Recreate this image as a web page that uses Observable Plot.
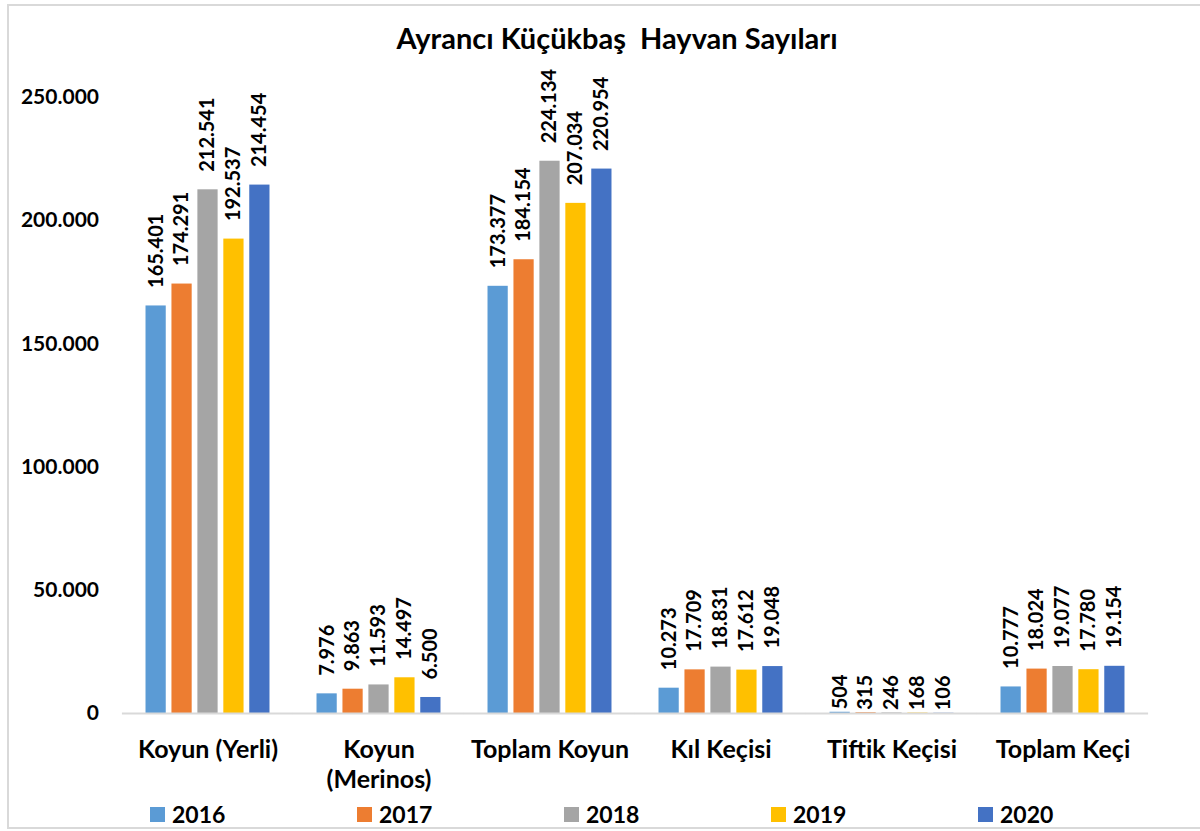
<!DOCTYPE html>
<html>
<head>
<meta charset="utf-8">
<script src="https://cdn.jsdelivr.net/npm/d3@7"></script>
<script src="https://cdn.jsdelivr.net/npm/@observablehq/plot@0.6"></script>
<style>
  html, body { margin: 0; padding: 0; background: #ffffff; }
  body { width: 1200px; height: 831px; position: relative; overflow: hidden; font-family: Lato, "Open Sans", sans-serif; }
  #frame { position: absolute; left: 7px; top: 4px; width: 1200px; height: 825px; border: 2px solid #d9d9d9; box-sizing: border-box; background: #fff; }
  #title { position: absolute; left: 0; top: 20px; width: 1234px; text-align: center; font-size: 29px; font-weight: 700; white-space: pre; color: #000; }
  #chart { position: absolute; left: 0; top: 0; }
  #legend { position: absolute; left: 150px; top: 800px; display: flex; }
  .item { width: 207px; display: flex; align-items: center; font-size: 23px; font-weight: 700; color: #000; }
  .sw { width: 15px; height: 15px; margin-right: 7px; }
</style>
</head>
<body>
<div id="frame"></div>
<div id="chart"></div>
<div id="title"></div>
<div id="legend"></div>
<script>
const title = "Ayrancı Küçükbaş  Hayvan Sayıları";
const categories = ["Koyun (Yerli)", "Koyun\n(Merinos)", "Toplam Koyun", "Kıl Keçisi", "Tiftik Keçisi", "Toplam Keçi"];
const years = ["2016", "2017", "2018", "2019", "2020"];
const colors = ["#5B9BD5", "#ED7D31", "#A5A5A5", "#FFC000", "#4472C4"];
const v2016 = [165401, 7976, 173377, 10273, 504, 10777];
const v2017 = [174291, 9863, 184154, 17709, 315, 18024];
const v2018 = [212541, 11593, 224134, 18831, 246, 19077];
const v2019 = [192537, 14497, 207034, 17612, 168, 17780];
const v2020 = [214454, 6500, 220954, 19048, 106, 19154];
const yTicks = [0, 50000, 100000, 150000, 200000, 250000];

const series = [v2016, v2017, v2018, v2019, v2020];
const data = [];
categories.forEach((c, i) => years.forEach((y, j) => data.push({cat: c, year: y, value: series[j][i]})));

const tr = d3.formatLocale({decimal: ",", thousands: ".", grouping: [3], currency: ["", ""]});
const fmt = tr.format(",d");
const smallCat = "Tiftik Keçisi";

document.getElementById("title").textContent = title;

const chart = Plot.plot({
  width: 1200,
  height: 800,
  marginLeft: 122,
  marginRight: 52,
  marginTop: 97,
  marginBottom: 87,
  style: {fontFamily: "Lato, 'Open Sans', sans-serif", fontWeight: 700, fontSize: "21px", color: "#000", background: "transparent", overflow: "visible"},
  fx: {domain: categories, paddingInner: 0.275, paddingOuter: 0.1375, round: false, label: null, axis: null},
  x: {domain: years, paddingInner: 0.22, paddingOuter: 0, round: false, axis: null},
  y: {domain: [0, 250000], ticks: yTicks, tickFormat: fmt, tickSize: 0, tickPadding: 47, label: null},
  color: {domain: years, range: colors},
  marks: [
    Plot.barY(data, {fx: "cat", x: "year", y: "value", fill: "year"}),
    Plot.ruleY([0], {stroke: "#d9d9d9", strokeWidth: 2, insetLeft: -23.6, insetRight: -23.6}),
    Plot.text(data.filter(d => d.cat !== smallCat), {fx: "cat", x: "year", y: "value", text: d => fmt(d.value), rotate: -90, textAnchor: "start", dy: -18, fontSize: 20, fontWeight: 700, fill: "#000"}),
    Plot.text(data.filter(d => d.cat === smallCat), {fx: "cat", x: "year", y: "value", text: d => fmt(d.value), rotate: -90, textAnchor: "start", dy: -3, fontSize: 20, fontWeight: 700, fill: "#000"}),
    Plot.text(categories, {fx: d => d, text: d => d, frameAnchor: "bottom", lineAnchor: "top", dy: 23, lineHeight: 1.2, fontSize: 25, fontWeight: 700, fill: "#000"})
  ]
});
document.getElementById("chart").appendChild(chart);

const legend = document.getElementById("legend");
years.forEach((y, i) => {
  const it = document.createElement("div");
  it.className = "item";
  const sw = document.createElement("span");
  sw.className = "sw";
  sw.style.background = colors[i];
  const t = document.createElement("span");
  t.textContent = y;
  it.appendChild(sw); it.appendChild(t);
  legend.appendChild(it);
});
</script>
</body>
</html>
